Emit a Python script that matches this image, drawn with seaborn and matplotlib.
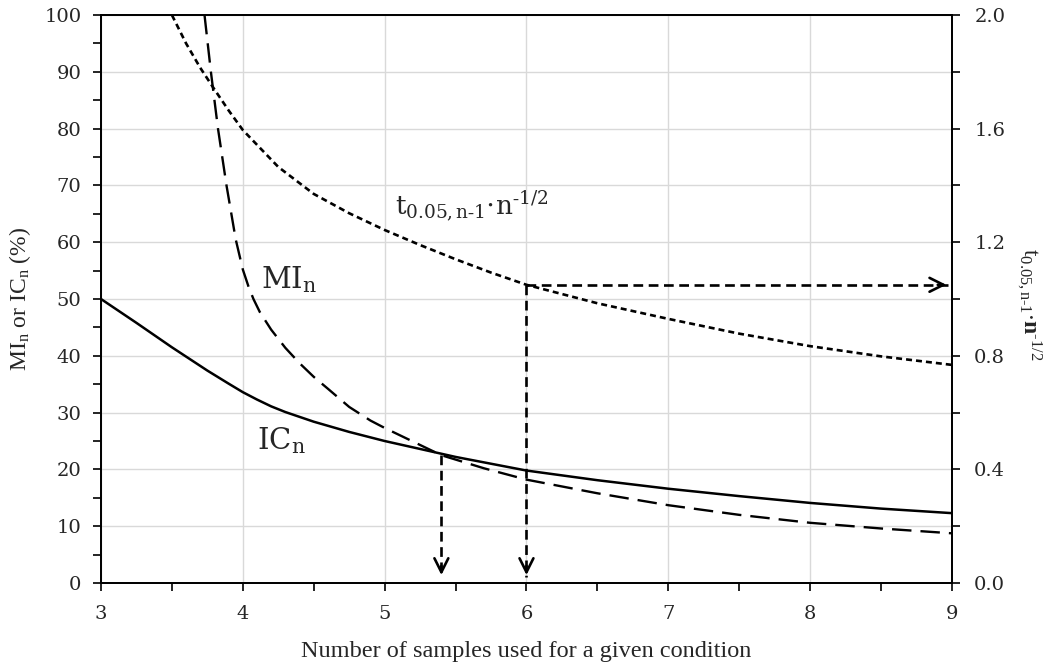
import matplotlib
matplotlib.use("Agg")
import matplotlib.pyplot as plt
import matplotlib.ticker as ticker
import seaborn as sns

# --- data ---
# IC_n (%) - solid
n_ic = [3.0, 3.25, 3.5, 3.75, 3.9, 4.0, 4.1, 4.2, 4.3, 4.5, 4.75, 5.0, 5.25, 5.5, 5.75,
        6.0, 6.5, 7.0, 7.5, 8.0, 8.5, 9.0]
ic_vals = [50.0, 45.8, 41.5, 37.4, 35.1, 33.6, 32.3, 31.1, 30.1, 28.4, 26.6, 25.0, 23.6,
           22.2, 21.0, 19.8, 18.1, 16.6, 15.3, 14.1, 13.1, 12.3]

# MI_n (%) - long dashes
n_mi = [3.73, 3.775, 3.825, 3.885, 3.95, 4.0, 4.04, 4.075, 4.12, 4.2, 4.3, 4.4, 4.5, 4.6,
        4.75, 4.9, 5.0, 5.2, 5.4, 5.7, 6.0, 6.5, 7.0, 7.5, 8.0, 8.5, 9.0]
mi_vals = [100.0, 90.0, 80.0, 70.0, 60.5, 55.2, 52.2, 50.0, 47.7, 44.6, 41.4, 38.7, 36.3,
           34.2, 31.0, 28.6, 27.3, 24.9, 22.5, 20.2, 18.2, 15.8, 13.7, 12.0, 10.6, 9.6, 8.75]

# t_{0.05,n-1} * n^-1/2 (right axis) - short dashes
n_t = [3.5, 3.6, 3.7, 3.8, 3.9, 4.0, 4.25, 4.5, 4.75, 5.0, 5.25, 5.5, 5.75, 6.0, 6.5,
       7.0, 7.5, 8.0, 8.5, 9.0]
t_vals = [2.0, 1.9, 1.814, 1.738, 1.664, 1.595, 1.465, 1.37, 1.302, 1.243, 1.19, 1.14,
          1.093, 1.05, 0.985, 0.93, 0.878, 0.834, 0.798, 0.768]

# marked sample sizes and the level they are read at
marked_n = [5.4, 6.0]
marked_pct = [22.5, 52.5]

# --- style ---
sns.set_style("white")
plt.rcParams['font.family'] = ['DejaVu Serif']
plt.rcParams['mathtext.fontset'] = 'custom'
plt.rcParams['mathtext.rm'] = 'Liberation Serif'
plt.rcParams['mathtext.it'] = 'Liberation Serif:italic'
plt.rcParams['mathtext.bf'] = 'Liberation Serif:bold'
plt.rcParams['lines.scale_dashes'] = False
TXT = 'Liberation Serif'

fig = plt.figure(figsize=(10.54, 6.66), dpi=100)
ax = fig.add_axes([0.0958, 0.1246, 0.8074, 0.8529])
ax2 = ax.twinx()

ax.set_xlim(3, 9)
ax.set_ylim(0, 100)
ax2.set_ylim(0, 2.0)

# ticks and light grid
ax.xaxis.set_major_locator(ticker.MultipleLocator(1))
ax.xaxis.set_minor_locator(ticker.MultipleLocator(0.5))
ax.yaxis.set_major_locator(ticker.MultipleLocator(10))
ax.yaxis.set_minor_locator(ticker.MultipleLocator(5))
ax2.yaxis.set_major_locator(ticker.MultipleLocator(0.4))
ax2.yaxis.set_minor_locator(ticker.MultipleLocator(0.2))
ax2.yaxis.set_major_formatter(ticker.FormatStrFormatter('%.1f'))
ax.grid(True, which='major', color='#d9d9d9', linewidth=1.0)
ax.set_axisbelow(True)

# curves
sns.lineplot(x=n_ic, y=ic_vals, ax=ax, color='black', linewidth=1.8)
sns.lineplot(x=n_mi, y=mi_vals, ax=ax, color='black', linewidth=1.7,
             linestyle=(0, (14, 6.5)))
sns.lineplot(x=n_t, y=t_vals, ax=ax2, color='black', linewidth=1.9,
             linestyle=(0, (4.3, 2.9)))

# dashed arrows
arrow_dash = (0, (7, 4))
head = '->,head_length=1.0,head_width=0.5'
x_end = ax.get_xlim()[1]
ax.plot([marked_n[1], x_end - 0.03], [marked_pct[1], marked_pct[1]],
        color='black', linewidth=1.9, linestyle=arrow_dash)
ax.annotate('', xy=(x_end - 0.02, marked_pct[1]), xytext=(x_end - 0.12, marked_pct[1]),
            arrowprops=dict(arrowstyle=head, color='black', linewidth=1.9))
for nx, py in zip(marked_n, marked_pct):
    ax.plot([nx, nx], [py, 1.0], color='black', linewidth=1.9, linestyle=arrow_dash)
    ax.annotate('', xy=(nx, 0.9), xytext=(nx, 3.5),
                arrowprops=dict(arrowstyle=head, color='black', linewidth=1.9))

# curve labels
ax.text(4.13, 53.5, r'$\mathregular{MI_n}$', fontsize=21, va='center', ha='left')
ax.text(4.1, 25, r'$\mathregular{IC_n}$', fontsize=21, va='center', ha='left')
ax.text(5.07, 66.3, r'$\mathregular{t_{0.05,n\text{-}1}{\cdot}n^{\text{-}1/2}}$',
        fontsize=19, va='center', ha='left')

# axes labels
ax.set_xlabel('Number of samples used for a given condition', fontsize=17.5,
              family=TXT, labelpad=13)
ax.set_ylabel(r'$\mathregular{MI_n}$ or $\mathregular{IC_n}$ (%)', fontsize=17,
              family=TXT, labelpad=8)
ax2.set_ylabel(r'$\mathregular{t_{0.05,n\text{-}1}{\cdot}\mathbf{n}^{\text{-}1/2}}$',
               fontsize=17, family=TXT, rotation=270)
ax2.yaxis.set_label_coords(1.108, 0.49)

for a in (ax, ax2):
    a.tick_params(which='both', direction='out', color='black', labelsize=14,
                  width=1.2, length=6)
    for s in a.spines.values():
        s.set_color('black')
        s.set_linewidth(1.3)
ax.tick_params(axis='y', which='both', left=True, right=False, pad=8)
ax.tick_params(axis='x', which='both', bottom=True, pad=10)
ax2.tick_params(axis='y', which='both', right=True, pad=10)

fig.savefig('out.png', dpi=100)
